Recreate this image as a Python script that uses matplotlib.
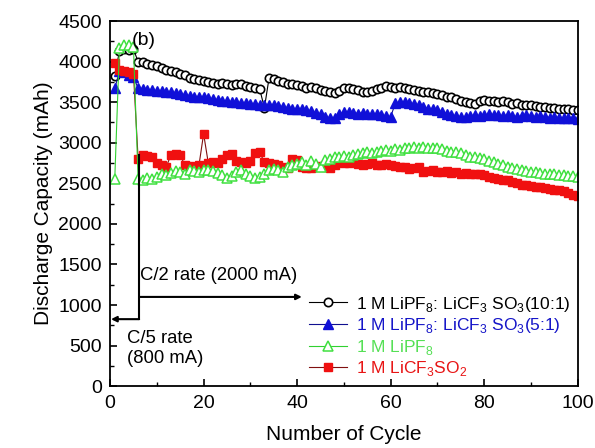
import numpy as np
import matplotlib
matplotlib.use("Agg")
import matplotlib.pyplot as plt

plt.rcParams['font.family'] = ['Liberation Sans', 'DejaVu Sans']
plt.rcParams['mathtext.fontset'] = 'custom'
plt.rcParams['mathtext.rm'] = 'Liberation Sans'

cycles = np.arange(1, 101)

# 1 M LiPF8 : LiCF3SO3 (10:1)
cap_10to1 = [3820, 4130, 4150, 4140, 4150, 4000, 3990, 3970, 3960, 3940,
             3920, 3900, 3880, 3870, 3850, 3830, 3800, 3790, 3770, 3760,
             3750, 3740, 3720, 3740, 3730, 3710, 3730, 3720, 3700, 3690,
             3680, 3660, 3430, 3800, 3780, 3760, 3750, 3730, 3720, 3710,
             3700, 3680, 3690, 3670, 3650, 3640, 3620, 3610, 3640, 3670,
             3680, 3660, 3650, 3630, 3620, 3640, 3660, 3680, 3700, 3690,
             3680, 3690, 3670, 3660, 3650, 3640, 3630, 3620, 3610, 3600,
             3590, 3570, 3560, 3540, 3520, 3500, 3490, 3480, 3510, 3530,
             3520, 3510, 3500, 3520, 3500, 3480, 3490, 3470, 3460, 3460,
             3450, 3440, 3440, 3430, 3430, 3420, 3410, 3410, 3400, 3400]

# 1 M LiPF8 : LiCF3SO3 (5:1)
cap_5to1 = [3670, 3880, 3870, 3840, 3810, 3670, 3660, 3650, 3650, 3640,
            3640, 3630, 3620, 3610, 3600, 3590, 3580, 3570, 3560, 3560,
            3550, 3540, 3530, 3520, 3510, 3500, 3500, 3490, 3490, 3480,
            3480, 3470, 3460, 3470, 3460, 3450, 3440, 3430, 3420, 3420,
            3410, 3400, 3390, 3370, 3350, 3320, 3300, 3310, 3350, 3380,
            3380, 3370, 3360, 3370, 3360, 3350, 3360, 3340, 3330, 3320,
            3490, 3500, 3500, 3490, 3480, 3460, 3440, 3420, 3410, 3400,
            3380, 3360, 3340, 3330, 3320, 3320, 3330, 3340, 3330, 3340,
            3350, 3340, 3340, 3330, 3340, 3330, 3320, 3330, 3340, 3330,
            3320, 3330, 3320, 3310, 3320, 3310, 3300, 3310, 3300, 3290]

# 1 M LiPF8
cap_lipf = [2550, 4170, 4200, 4200, 4180, 2550, 2540, 2560, 2550, 2580,
            2620, 2600, 2630, 2650, 2640, 2620, 2660, 2650, 2640, 2670,
            2660, 2650, 2630, 2600, 2560, 2590, 2640, 2660, 2620, 2590,
            2560, 2580, 2620, 2660, 2680, 2660, 2640, 2700, 2720, 2740,
            2760, 2720, 2780, 2740, 2700, 2790, 2800, 2820, 2830, 2840,
            2830, 2850, 2860, 2870, 2880, 2870, 2890, 2900, 2910, 2900,
            2920, 2910, 2930, 2940, 2950, 2940, 2950, 2940, 2930, 2930,
            2920, 2900, 2890, 2880, 2870, 2850, 2830, 2820, 2810, 2800,
            2780, 2760, 2740, 2720, 2700, 2690, 2680, 2660, 2650, 2640,
            2640, 2630, 2620, 2610, 2610, 2600, 2600, 2590, 2590, 2580]

# 1 M LiCF3SO2
cap_licf = [3980, 3900, 3880, 3870, 3850, 2800, 2850, 2840, 2830, 2750,
            2720, 2700, 2850, 2860, 2850, 2720, 2710, 2700, 2720, 3110,
            2750, 2760, 2750, 2800, 2850, 2860, 2780, 2760, 2750, 2770,
            2870, 2880, 2760, 2750, 2740, 2720, 2700, 2690, 2800, 2790,
            2700, 2690, 2690, 2700, 2710, 2700, 2690, 2730, 2760, 2750,
            2750, 2760, 2740, 2730, 2740, 2750, 2730, 2720, 2740, 2720,
            2710, 2700, 2700, 2680, 2690, 2700, 2640, 2650, 2660, 2640,
            2640, 2650, 2630, 2640, 2620, 2630, 2620, 2610, 2620, 2600,
            2580, 2570, 2550, 2540, 2540, 2520, 2500, 2480, 2480, 2470,
            2460, 2450, 2440, 2430, 2420, 2420, 2400, 2380, 2360, 2340]

labels = [r'1 M LiPF$_8$: LiCF$_3$ SO$_3$(10:1)',
          r'1 M LiPF$_8$: LiCF$_3$ SO$_3$(5:1)',
          r'1 M LiPF$_8$',
          r'1 M LiCF$_3$SO$_2$']
text_colors = ['black', '#1515c8', '#55e055', '#e81515']

fig = plt.figure(figsize=(5.95, 4.48), dpi=100)
ax = fig.add_axes([0.185, 0.138, 0.786, 0.815])

ax.plot(cycles, cap_10to1, color='black', lw=0.8, marker='o', ms=6,
        mfc='white', mec='black', mew=1.2, label=labels[0])
ax.plot(cycles, cap_5to1, color='#101090', lw=0.8, marker='^', ms=6.5,
        mfc='#1010d8', mec='#1010d8', label=labels[1])
ax.plot(cycles, cap_licf, color='#801010', lw=0.8, marker='s', ms=6,
        mfc='#f01010', mec='#f01010', label=labels[3])
ax.plot(cycles, cap_lipf, color='#30d030', lw=0.8, marker='^', ms=6.5,
        mfc='white', mec='#40e040', mew=1.1, label=labels[2])

# rate annotations
ax.plot([6.2, 6.2], [826, 2850], color='black', lw=1.5)
ax.annotate('', xy=(0.2, 826), xytext=(6.2, 826),
            arrowprops=dict(arrowstyle='-|>', color='black', lw=1.5,
                            mutation_scale=8, shrinkA=0, shrinkB=0))
ax.annotate('', xy=(41, 1100), xytext=(6.2, 1100),
            arrowprops=dict(arrowstyle='-|>', color='black', lw=1.5,
                            mutation_scale=8, shrinkA=0, shrinkB=0))
ax.text(6.3, 1370, 'C/2 rate (2000 mA)', fontsize=13.3, va='center')
ax.text(3.7, 590, 'C/5 rate', fontsize=13.3, va='center')
ax.text(3.7, 345, '(800 mA)', fontsize=13.3, va='center')
ax.text(4.6, 4260, '(b)', fontsize=14, va='center')

ax.set_xlim(0, 100)
ax.set_ylim(0, 4500)
ax.set_xticks([0, 20, 40, 60, 80, 100])
ax.set_xticks([10, 30, 50, 70, 90], minor=True)
ax.set_yticks(np.arange(0, 4501, 500))
ax.set_yticks(np.arange(250, 4500, 500), minor=True)
ax.tick_params(direction='in', labelsize=14, length=5, width=1.2, pad=6)
ax.tick_params(which='minor', direction='in', length=3, width=1.0)
for s in ax.spines.values():
    s.set_linewidth(1.3)

ax.set_xlabel('Number of Cycle', fontsize=15, labelpad=10)
ax.set_ylabel('Discharge Capacity (mAh)', fontsize=15, labelpad=4)

h, l = ax.get_legend_handles_labels()
order = [0, 1, 3, 2]
leg = ax.legend([h[i] for i in order], [l[i] for i in order],
                loc='upper left', bbox_to_anchor=(0.41, 0.27),
                frameon=False, fontsize=12.5, handlelength=2.2,
                handletextpad=0.5, labelspacing=0.15, borderaxespad=0)
for t, c in zip(leg.get_texts(), text_colors):
    t.set_color(c)

fig.savefig('out.png', dpi=100)
